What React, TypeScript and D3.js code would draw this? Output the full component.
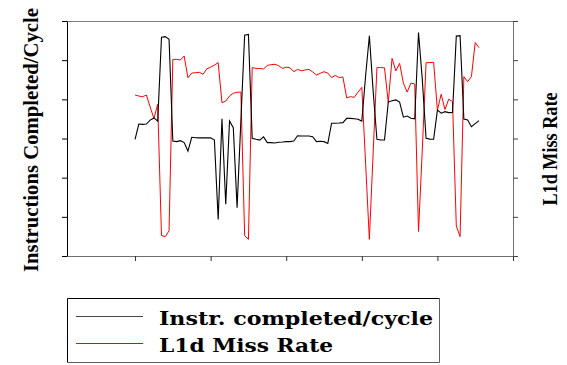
import React, { useEffect, useRef } from 'react';
import * as d3 from 'd3';

// sample index runs 0..91, x axis ticks every 20 samples
const xTicks = [0, 20, 40, 60, 80, 100];
const leftTicks = [0, 0.2, 0.4, 0.6, 0.8, 1.0, 1.2];
const rightTicks = [0, 2, 4, 6, 8, 10, 12];

const ipc = [
  0.596, 0.674, 0.672, 0.674, 0.694, 0.705, 0.689, 1.117, 1.120, 1.106,
  0.587, 0.584, 0.589, 0.579, 0.536, 0.606, 0.604, 0.603, 0.603, 0.603,
  0.604, 0.592, 0.187, 0.701, 0.264, 0.690, 0.655, 0.247, 0.689, 1.128,
  1.131, 0.601, 0.596, 0.592, 0.608, 0.579, 0.579, 0.577, 0.581, 0.582,
  0.584, 0.584, 0.587, 0.614, 0.613, 0.613, 0.613, 0.609, 0.584, 0.586,
  0.584, 0.575, 0.678, 0.678, 0.679, 0.681, 0.703, 0.703, 0.701, 0.698,
  0.689, 0.919, 1.125, 0.842, 0.596, 0.592, 0.592, 0.786, 0.793, 0.797,
  0.786, 0.709, 0.715, 0.703, 0.700, 1.141, 0.902, 0.601, 0.597, 0.596,
  0.745, 0.729, 0.737, 0.732, 0.733, 1.123, 1.125, 0.699, 0.694, 0.660,
  0.676, 0.691,
];

const missRate = [
  8.22, 8.17, 8.13, 8.22, 7.61, 7.02, 7.75, 1.04, 0.99, 1.29,
  10.04, 10.04, 10.01, 10.21, 9.10, 9.34, 9.36, 9.38, 9.28, 9.56,
  9.64, 9.75, 9.87, 7.83, 7.91, 8.17, 8.31, 8.36, 8.37, 1.04,
  0.85, 9.62, 9.58, 9.58, 9.55, 9.73, 9.77, 9.79, 9.72, 9.58,
  9.64, 9.61, 9.41, 9.53, 9.46, 9.50, 9.53, 9.40, 9.24, 9.33,
  9.41, 9.34, 9.11, 9.22, 9.11, 9.14, 8.07, 8.14, 8.10, 8.37,
  8.61, 4.75, 0.85, 5.26, 9.62, 9.62, 9.61, 7.84, 10.09, 9.45,
  9.84, 8.83, 8.37, 8.83, 8.78, 1.25, 5.41, 9.87, 9.88, 9.89,
  7.45, 8.26, 7.48, 8.01, 7.88, 1.53, 0.99, 9.16, 8.90, 9.16,
  10.90, 10.64,
];

const legendLabels = ['Instr. completed/cycle', 'L1d Miss Rate'];
const seriesColors = ['#000000', '#ff0000'];

const App = () => {
  const svgRef = useRef(null);
  const width = 567;
  const height = 365;

  useEffect(() => {
    const svg = d3.select(svgRef.current);
    svg.selectAll('*').remove();

    const margin = { top: 21, right: 54, bottom: 109, left: 67 };
    const innerWidth = width - margin.left - margin.right;
    const innerHeight = height - margin.top - margin.bottom;

    const xScale = d3.scaleLinear().domain([-18, 100]).range([0, innerWidth]);
    const yLeft = d3.scaleLinear().domain([0, 1.2]).range([innerHeight, 0]);
    const yRight = d3.scaleLinear().domain([0, 12]).range([innerHeight, 0]);

    const g = svg.append('g')
      .attr('transform', `translate(${margin.left},${margin.top})`);

    // frame: top and bottom in grey
    g.append('line')
      .attr('x1', 0).attr('x2', innerWidth).attr('y1', 0.5).attr('y2', 0.5)
      .attr('stroke', '#808080');

    const bottom = g.append('g')
      .attr('transform', `translate(0,${innerHeight})`)
      .call(d3.axisBottom(xScale).tickValues(xTicks).tickSize(5).tickSizeOuter(0).tickFormat(() => ''));
    bottom.select('.domain').attr('stroke', '#707070');
    bottom.selectAll('.tick line').attr('stroke', '#303030');

    const left = g.append('g')
      .call(d3.axisLeft(yLeft).tickValues(leftTicks).tickSize(5).tickSizeOuter(0).tickFormat(() => ''));
    left.select('.domain').attr('stroke', '#000');

    const right = g.append('g')
      .attr('transform', `translate(${innerWidth},0)`)
      .call(d3.axisRight(yRight).tickValues(rightTicks).tickSize(5).tickSizeOuter(0).tickFormat(() => ''));
    right.select('.domain').attr('stroke', '#707070');
    right.selectAll('.tick line').attr('stroke', '#404040');

    // series
    const ipcLine = d3.line().x((d, i) => xScale(i)).y(d => yLeft(d));
    const missLine = d3.line().x((d, i) => xScale(i)).y(d => yRight(d));

    g.append('path')
      .datum(missRate)
      .attr('d', missLine)
      .attr('fill', 'none')
      .attr('stroke', seriesColors[1])
      .attr('stroke-width', 1);

    g.append('path')
      .datum(ipc)
      .attr('d', ipcLine)
      .attr('fill', 'none')
      .attr('stroke', seriesColors[0])
      .attr('stroke-width', 1.1);

    // axis titles
    svg.append('text')
      .attr('transform', 'translate(38,140) rotate(-90)')
      .attr('text-anchor', 'middle')
      .attr('font-family', '"Liberation Serif", serif')
      .attr('font-weight', 'bold')
      .attr('font-size', 22)
      .attr('textLength', 264)
      .attr('lengthAdjust', 'spacingAndGlyphs')
      .text('Instructions Completed/Cycle');

    svg.append('text')
      .attr('transform', 'translate(557,149) rotate(-90)')
      .attr('text-anchor', 'middle')
      .attr('font-family', '"Liberation Serif", serif')
      .attr('font-weight', 'bold')
      .attr('font-size', 22)
      .attr('textLength', 113)
      .attr('lengthAdjust', 'spacingAndGlyphs')
      .text('L1d Miss Rate');

    // legend
    const lg = svg.append('g');
    lg.append('path')
      .attr('d', 'M67.5,362.5 L67.5,298.5 L439.5,298.5')
      .attr('fill', 'none').attr('stroke', '#000');
    lg.append('path')
      .attr('d', 'M439.5,298.5 L439.5,362.5 L67.5,362.5')
      .attr('fill', 'none').attr('stroke', '#606060');

    const textLens = [274, 174];
    legendLabels.forEach((label, i) => {
      const yy = 316.5 + i * 27;
      lg.append('line')
        .attr('x1', 76).attr('x2', 143).attr('y1', yy).attr('y2', yy)
        .attr('stroke', seriesColors[i] === '#000000' ? '#444' : seriesColors[i])
        .attr('stroke-width', 1);
      lg.append('text')
        .attr('x', 159)
        .attr('y', yy + 8.5)
        .attr('font-family', '"DejaVu Serif", serif')
        .attr('font-weight', 'bold')
        .attr('font-size', 19)
        .attr('textLength', textLens[i])
        .attr('lengthAdjust', 'spacingAndGlyphs')
        .text(label);
    });
  }, []);

  return (
    <svg
      ref={svgRef}
      width={width}
      height={height}
      style={{ position: 'absolute', left: 0, top: 0, background: '#fff' }}
    />
  );
};

export default App;
